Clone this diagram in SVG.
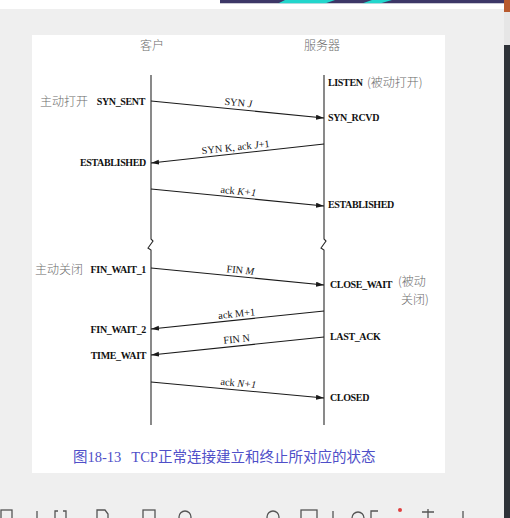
<svg xmlns="http://www.w3.org/2000/svg" width="510" height="518" viewBox="0 0 510 518">
<defs>
<style>
.st{font-family:"Liberation Serif","Noto Sans CJK SC",serif;font-weight:bold;font-size:10px;fill:#111;letter-spacing:-0.35px}
.lb{font-family:"Liberation Serif","Noto Sans CJK SC",serif;font-size:10.3px;fill:#111}
.cn{font-family:"Noto Sans CJK SC",sans-serif;font-size:12px;fill:#6b6b6b;font-weight:300}
.cap{font-family:"Liberation Serif","Noto Sans CJK SC",serif;font-size:14.5px;fill:#4f4fc8}
.it{font-style:italic}
.ll{fill:none;stroke:#2a2a2a;stroke-width:1.1}
.msg{stroke:#1a1a1a;stroke-width:1.1;marker-end:url(#ah)}
.ic{fill:none;stroke:#555;stroke-width:1.3}
</style>
<marker id="ah" markerUnits="userSpaceOnUse" markerWidth="9" markerHeight="6" refX="8" refY="2.5" orient="auto">
<path d="M0,0 L8,2.5 L0,5 z" fill="#1a1a1a"/>
</marker>
</defs>
<!-- screen background -->
<rect x="0" y="0" width="510" height="518" fill="#efefef"/>
<rect x="0" y="0" width="220" height="9" fill="#ffffff"/>
<rect x="220" y="0" width="284" height="3.5" fill="#3d3767"/>
<path d="M285,0 L335,0 L325,3.5 L278,3.5 z" fill="#22d6cc"/>
<path d="M372,0 L392,0 L380,3.5 L362,3.5 z" fill="#22d6cc"/>
<rect x="220" y="3.5" width="284" height="5.5" fill="#ffffff"/>
<rect x="504" y="0" width="6" height="12" fill="#b85a2e"/>
<rect x="504" y="12" width="6" height="33" fill="#e6e6e6"/>
<rect x="504" y="45" width="6" height="473" fill="#2e3238"/>
<!-- white panel -->
<rect x="32" y="35" width="413" height="438" fill="#ffffff"/>

<g id="client">
<text class="cn" x="152" y="50" text-anchor="middle" font-size="13">客户</text>
<path class="ll" d="M151,75 V239 L153,241 L148,248 L151,250 V425"/>
</g>
<g id="server">
<text class="cn" x="322" y="50" text-anchor="middle" font-size="13">服务器</text>
<path class="ll" d="M324,75 V239 L326,241 L321,248 L324,250 V425"/>
</g>

<g id="client-states">
<text class="cn" x="40" y="106">主动打开</text>
<text class="st" x="145" y="104.5" text-anchor="end">SYN_SENT</text>
<text class="st" x="146" y="166" text-anchor="end">ESTABLISHED</text>
<text class="cn" x="35" y="273.5">主动关闭</text>
<text class="st" x="146" y="273" text-anchor="end">FIN_WAIT_1</text>
<text class="st" x="146" y="332.5" text-anchor="end">FIN_WAIT_2</text>
<text class="st" x="146" y="358.5" text-anchor="end">TIME_WAIT</text>
</g>

<g id="server-states">
<text class="st" x="328" y="86">LISTEN</text>
<text class="cn" x="367" y="86.5">(被动打开)</text>
<text class="st" x="328" y="121">SYN_RCVD</text>
<text class="st" x="328" y="208">ESTABLISHED</text>
<text class="st" x="330" y="287.5">CLOSE_WAIT</text>
<text class="cn" x="398" y="285.5">(被动</text>
<text class="cn" x="401" y="303.5">关闭)</text>
<text class="st" x="330" y="339.5">LAST_ACK</text>
<text class="st" x="330" y="401">CLOSED</text>
</g>

<g id="connectors">
<line class="msg" x1="151" y1="101" x2="324" y2="118"/>
<text class="lb" x="238" y="106" text-anchor="middle" transform="rotate(5.6 238 106)">SYN <tspan class="it">J</tspan></text>

<line class="msg" x1="324" y1="144" x2="151" y2="163"/>
<text class="lb" x="236" y="150.5" text-anchor="middle" transform="rotate(-6.2 236 150.5)">SYN K, ack <tspan class="it">J</tspan>+1</text>

<line class="msg" x1="151" y1="189" x2="324" y2="206"/>
<text class="lb" x="238" y="194.5" text-anchor="middle" transform="rotate(5.6 238 194.5)">ack <tspan class="it">K+1</tspan></text>

<line class="msg" x1="151" y1="268" x2="324" y2="285"/>
<text class="lb" x="240" y="273.5" text-anchor="middle" transform="rotate(5.6 240 273.5)">FIN <tspan class="it">M</tspan></text>

<line class="msg" x1="324" y1="311" x2="151" y2="329"/>
<text class="lb" x="237" y="317" text-anchor="middle" transform="rotate(-5.9 237 317)">ack M+1</text>

<line class="msg" x1="324" y1="337" x2="151" y2="355"/>
<text class="lb" x="237" y="342.5" text-anchor="middle" transform="rotate(-5.9 237 342.5)">FIN N</text>

<line class="msg" x1="151" y1="382" x2="324" y2="398"/>
<text class="lb" x="238" y="386.5" text-anchor="middle" transform="rotate(5.3 238 386.5)">ack <tspan class="it">N+1</tspan></text>
</g>

<text class="cap" x="73" y="462">图18-13<tspan dx="10">TCP正常连接建立和终止所对应的状态</tspan></text>

<g id="toolbar">
<rect class="ic" x="1" y="510" width="11" height="10"/>
<line class="ic" x1="37" y1="511" x2="37" y2="518"/>
<path class="ic" d="M55,520 V511 H58 M66,520 V511 H63"/>
<path class="ic" d="M97,520 V510 H105 L108,514 V520"/>
<rect class="ic" x="143" y="510" width="12" height="10"/>
<circle class="ic" cx="185" cy="517" r="6"/>
<circle class="ic" cx="273" cy="517" r="6"/>
<rect class="ic" x="301" y="510" width="16" height="10"/>
<line class="ic" x1="333" y1="511" x2="333" y2="518"/>
<circle class="ic" cx="358" cy="518" r="6"/>
<path class="ic" d="M371,520 V511 H378"/>
<circle cx="400" cy="510" r="2" fill="#e04040"/>
<path class="ic" d="M422,512 H434 M428,509 V520"/>
<line class="ic" x1="463" y1="511" x2="463" y2="518"/>
</g>
</svg>
